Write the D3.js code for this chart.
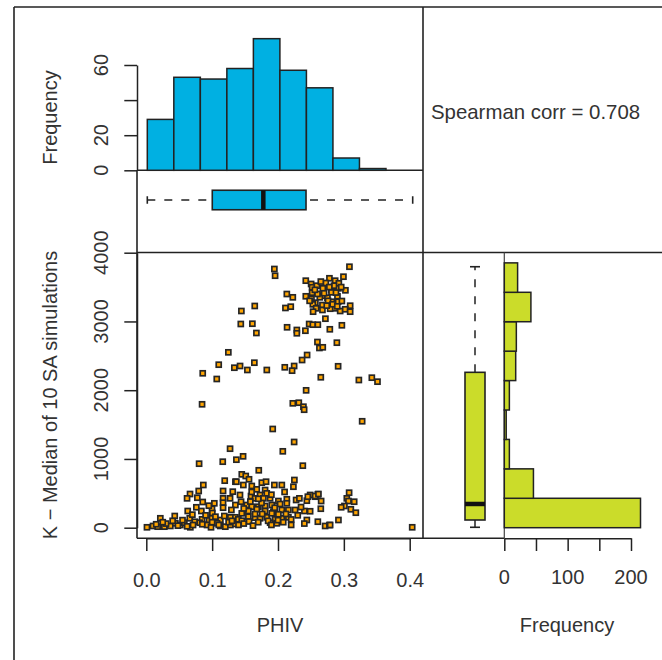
<!DOCTYPE html>
<html>
<head>
<meta charset="utf-8">
<script src="https://cdn.jsdelivr.net/npm/d3@7"></script>
<style>
  body { margin: 0; background: #fff; }
  svg text { font-family: "Liberation Sans", Arial, sans-serif; font-size: 20px; fill: #333; }
</style>
</head>
<body>
<div id="chart"></div>
<script>
// scatter points: PHIV (x) and K - median of 10 SA simulations (y)
var phiv = [
  0.1945,0.1956,0.3085,0.2994,0.2134,0.2225,0.2113,0.2194,0.1444,0.1647,0.1435,0.1611,0.1672,
  0.2138,0.2286,0.2286,0.2416,0.2473,0.2529,0.2605,0.272,0.2787,0.297,0.2599,0.2629,0.268,0.2894,
  0.2442,0.2366,0.1246,0.0857,0.107,0.11,0.1337,0.1424,0.1535,0.1641,0.183,0.2103,0.2245,0.2214,
  0.2913,0.265,0.3228,0.3425,0.3511,0.2427,0.0847,0.2225,0.2316,0.2386,0.2397,0.3278,0.192,
  0.2422,0.2503,0.2518,0.2781,0.2726,0.2868,0.2924,0.2918,0.3024,0.2681,0.2812,0.2812,0.2518,
  0.2422,0.2508,0.2681,0.2635,0.2751,0.2903,0.2818,0.2913,0.2568,0.2529,0.2675,0.3096,0.297,
  0.2579,0.2675,0.2533,0.2863,0.2944,0.302,0.3096,0.2792,
  0.259,0.27,0.285,0.276,0.26,0.288,0.296,0.265,0.274,0.283,0.248,0.256,0.29,0.278,
  0.1272,0.147,0.1368,0.1161,0.0802,0.2245,0.2073,0.2377,0.1708,0.4038,
  0.1191,0.1353,0.0866,0.0796,0.0664,0.0619,0.0775,0.0857,0.1166,0.1313,0.1166,0.1272,0.1033,
  0.1166,0.076,0.0629,0.0836,0.0998,0.1003,0.1166,0.1353,0.1292,
  0.0213,0.0432,0.066,0.0736,0.0847,0.0953,0.0998,0.1125,0.1185,0.1277,0.1353,
  0.001,0.0102,0.0173,0.0274,0.0365,0.0441,0.0517,0.0578,0.0669,0.071,0.0812,0.0922,0.0983,
  0.1074,0.1125,0.12,0.1277,0.1353,
  0.145,0.151,0.156,0.1368,0.1474,0.1602,0.1754,0.1819,0.1945,0.2058,0.2249,0.2234,0.1678,
  0.1804,0.1829,0.1727,0.159,0.1423,0.1439,0.1652,0.1778,0.188,0.2006,0.2134,0.2134,0.2275,
  0.2325,0.2438,0.2488,0.2564,0.2605,0.2655,0.265,0.2488,0.2401,0.2438,0.2605,0.2716,0.2781,
  0.1526,0.1602,0.1702,0.1804,0.1906,0.2032,0.2158,0.226,0.2058,0.193,0.1804,0.1678,0.155,
  0.145,0.1398,0.145,0.155,0.1652,0.1728,0.1829,0.1956,0.2058,0.2158,0.188,0.1982,0.1652,
  0.1906,0.2006,
  0.308,0.3045,0.3157,0.307,0.3009,0.2959,0.3106,0.3182,0.2918,0.2792,
  0.03,0.048,0.055,0.062,0.09,0.105,0.11,0.125,0.14,0.148,0.156,0.162,0.17,0.176,0.185,0.19,
  0.2,0.208,0.212,0.22,0.23,0.235,0.195,0.175,0.158,0.148,0.095,0.07,0.04,0.015,0.1,0.16,
  0.19,0.21,0.17,0.24,0.22,0.13,0.085,0.025,0.2453,0.2564,0.2614
];
var kMedian = [
  3763,3665,3796,3651,3399,3351,3196,3215,3152,3225,2963,2967,2832,
  2915,2876,2828,2865,2963,2953,2953,3040,2886,2944,2701,2614,2624,2691,
  2512,2439,2551,2246,2163,2371,2327,2352,2294,2400,2294,2333,2352,2284,
  2348,2188,2148,2182,2124,1998,1795,1809,1818,1760,1716,1548,1436,
  3593,3545,3497,3628,3559,3593,3555,3482,3453,3482,3462,3424,3418,
  3366,3331,3375,3351,3345,3366,3287,3287,3273,3249,3239,3229,3297,
  3191,3167,3142,3191,3152,3177,3142,3185,
  3520,3410,3520,3300,3400,3420,3500,3580,3230,3250,3300,3460,3220,3500,
  1149,1038,989,960,931,1247,1111,902,835,6,
  684,669,621,534,490,427,436,374,534,524,427,427,355,
  364,297,243,243,276,214,291,330,258,
  137,170,137,87,122,112,137,112,170,151,151,
  6,25,15,15,25,64,39,73,6,39,73,39,6,
  64,25,15,39,54,
  776,752,704,669,621,607,655,669,621,621,694,596,558,
  548,500,476,461,476,378,427,427,427,388,413,355,403,
  427,393,476,451,486,388,276,239,243,112,87,25,39,
  330,305,305,316,330,345,258,258,258,233,243,268,243,
  209,122,102,160,146,137,151,122,137,151,73,64,199,
  209,195,
  509,427,378,388,316,297,268,218,112,39,
  60,30,110,20,180,160,40,80,40,60,90,30,80,200,100,40,
  110,80,200,120,180,300,290,360,380,280,320,190,100,50,80,520,
  480,520,420,60,40,100,50,80,451,461,490
];

// top histogram of PHIV
var phivBreaks = [0,0.04,0.08,0.12,0.16,0.20,0.24,0.28,0.32,0.36];
var phivCounts = [29,53,52,58,75,57,47,7,1];
var phivBox = [0.0, 0.098, 0.175, 0.2394, 0.4003]; // min, q1, median, q3, max

// right histogram of K
var kBreaks = [0,428,856,1284,1712,2140,2568,2996,3424,3852];
var kCounts = [215,46,8,3,8,18,19,42,21];
var kBox = [6, 112, 345, 2260, 3796];

var xTicks = [0,0.1,0.2,0.3,0.4];
var yTicks = [0,1000,2000,3000,4000];
var topTicks = [0,20,40,60];
var topLabels = [0,20,60];
var rightTicks = [0,50,100,150,200];
var rightLabels = [0,100,200];

var corrText = "Spearman corr = 0.708";

var W = 662, H = 660, ink = "#222";

var svg = d3.select("#chart").append("svg").attr("width", W).attr("height", H);

var x = d3.scaleLinear().domain([0,0.4]).range([146.3,409.7]);
var y = d3.scaleLinear().domain([0,4000]).range([527.7,252.7]);
var xTop = d3.scaleLinear().domain([0,0.4]).range([147.3,412.5]);
var yTop = d3.scaleLinear().domain([0,60]).range([170.3,65]);
var xRight = d3.scaleLinear().domain([0,200]).range([504.3,631]);

function line(x1,y1,x2,y2,w,c) {
  svg.append("line").attr("x1",x1).attr("y1",y1).attr("x2",x2).attr("y2",y2)
    .attr("stroke", c || ink).attr("stroke-width", w || 1.6);
}

// frame and panel borders
line(14,7,662,7);
line(14,7,14,660);
line(423,7,423,538.3);
line(137,252.5,662,252.5);
line(137,170.3,423,170.3);
line(137,170.3,137,538.3);
line(137,538.3,504.3,538.3);
line(504.3,252.5,504.3,538.3,1.2,"#444");

// top histogram
svg.append("g").selectAll("rect").data(phivCounts).enter().append("rect")
  .attr("x", function(d,i){ return xTop(phivBreaks[i]); })
  .attr("width", function(d,i){ return xTop(phivBreaks[i+1]) - xTop(phivBreaks[i]); })
  .attr("y", function(d){ return yTop(d); })
  .attr("height", function(d){ return yTop(0) - yTop(d); })
  .attr("fill", "#00b0e2").attr("stroke", ink).attr("stroke-width", 1.5);

var topAx = svg.append("g").attr("transform","translate(137,0)")
  .call(d3.axisLeft(yTop).tickValues(topTicks).tickSize(12.7).tickSizeOuter(0).tickFormat(""));
styleAxis(topAx);
svg.append("g").selectAll("text").data(topLabels).enter().append("text")
  .attr("transform", function(d){ return "translate(108," + yTop(d) + ") rotate(-90)"; })
  .attr("text-anchor","middle").text(function(d){ return d; });
svg.append("text").attr("transform","translate(57,117.5) rotate(-90)")
  .attr("text-anchor","middle").text("Frequency");

// top boxplot (horizontal)
var bY = 200, bH = 19.5, cH = 7.5;
var gTb = svg.append("g");
gTb.append("line").attr("x1", xTop(phivBox[0])).attr("x2", xTop(phivBox[1])).attr("y1",bY).attr("y2",bY)
  .attr("stroke",ink).attr("stroke-width",1.5).attr("stroke-dasharray","8,9");
gTb.append("line").attr("x1", xTop(phivBox[3])).attr("x2", xTop(phivBox[4])).attr("y1",bY).attr("y2",bY)
  .attr("stroke",ink).attr("stroke-width",1.5).attr("stroke-dasharray","8,9").attr("stroke-dashoffset",-4);
[phivBox[0], phivBox[4]].forEach(function(v){
  gTb.append("line").attr("x1", xTop(v)).attr("x2", xTop(v)).attr("y1", bY-cH/2).attr("y2", bY+cH/2)
    .attr("stroke",ink).attr("stroke-width",1.6);
});
gTb.append("rect").attr("x", xTop(phivBox[1])).attr("width", xTop(phivBox[3]) - xTop(phivBox[1]))
  .attr("y", bY-bH/2).attr("height", bH).attr("fill","#00b0e2").attr("stroke",ink).attr("stroke-width",1.6);
gTb.append("line").attr("x1", xTop(phivBox[2])).attr("x2", xTop(phivBox[2])).attr("y1", bY-bH/2).attr("y2", bY+bH/2)
  .attr("stroke","#111").attr("stroke-width",4.5);

// scatter
svg.append("g").selectAll("rect").data(phiv).enter().append("rect")
  .attr("x", function(d){ return x(d) - 2.5; })
  .attr("y", function(d,i){ return y(kMedian[i]) - 2.5; })
  .attr("width", 5).attr("height", 5)
  .attr("fill", "#ffa500").attr("stroke", "#262626").attr("stroke-width", 1.7);

var xAx = svg.append("g").attr("transform","translate(0,538.3)")
  .call(d3.axisBottom(x).tickValues(xTicks).tickSize(12.7).tickSizeOuter(0).tickFormat(d3.format(".1f")).tickPadding(22));
styleAxis(xAx);
var yAx = svg.append("g").attr("transform","translate(137,0)")
  .call(d3.axisLeft(y).tickValues(yTicks).tickSize(12.7).tickSizeOuter(0).tickFormat(""));
styleAxis(yAx);
svg.append("g").selectAll("text").data(yTicks).enter().append("text")
  .attr("transform", function(d){ return "translate(108," + y(d) + ") rotate(-90)"; })
  .attr("text-anchor","middle").text(function(d){ return d; });
svg.append("text").attr("x",280).attr("y",631.5).attr("text-anchor","middle").text("PHIV");
svg.append("text").attr("transform","translate(57,395) rotate(-90)")
  .attr("text-anchor","middle").text("K \u2212 Median of 10 SA simulations");

// right boxplot (vertical)
var bX = 475, bW = 20, cW = 10;
var gRb = svg.append("g");
gRb.append("line").attr("x1",bX).attr("x2",bX).attr("y1", y(kBox[3])).attr("y2", y(kBox[4]))
  .attr("stroke",ink).attr("stroke-width",1.5).attr("stroke-dasharray","8,9");
gRb.append("line").attr("x1",bX).attr("x2",bX).attr("y1", y(kBox[0])).attr("y2", y(kBox[1]))
  .attr("stroke",ink).attr("stroke-width",1.5);
[kBox[0], kBox[4]].forEach(function(v){
  gRb.append("line").attr("x1", bX-cW/2).attr("x2", bX+cW/2).attr("y1", y(v)).attr("y2", y(v))
    .attr("stroke",ink).attr("stroke-width",1.6);
});
gRb.append("rect").attr("x", bX-bW/2).attr("width", bW)
  .attr("y", y(kBox[3])).attr("height", y(kBox[1]) - y(kBox[3]))
  .attr("fill","#cbdc2a").attr("stroke",ink).attr("stroke-width",1.6);
gRb.append("line").attr("x1", bX-bW/2).attr("x2", bX+bW/2).attr("y1", y(kBox[2])).attr("y2", y(kBox[2]))
  .attr("stroke","#111").attr("stroke-width",4.5);

// right histogram (horizontal bars)
svg.append("g").selectAll("rect").data(kCounts).enter().append("rect")
  .attr("x", xRight(0))
  .attr("width", function(d){ return xRight(d) - xRight(0); })
  .attr("y", function(d,i){ return y(kBreaks[i+1]); })
  .attr("height", function(d,i){ return y(kBreaks[i]) - y(kBreaks[i+1]); })
  .attr("fill", "#cbdc2a").attr("stroke", ink).attr("stroke-width", 1.5);

var rAx = svg.append("g").attr("transform","translate(0,538.3)")
  .call(d3.axisBottom(xRight).tickValues(rightTicks).tickSize(12.7).tickSizeOuter(0).tickFormat(""));
styleAxis(rAx);
svg.append("g").selectAll("text").data(rightLabels).enter().append("text")
  .attr("x", function(d){ return xRight(d); }).attr("y", 583.5)
  .attr("text-anchor","middle").text(function(d){ return d; });
svg.append("text").attr("x",567).attr("y",631.5).attr("text-anchor","middle").text("Frequency");

// correlation note
svg.append("text").attr("x",431).attr("y",118.5).style("font-size","20.4px").text(corrText);

function styleAxis(g) {
  g.selectAll("path, line").attr("stroke", ink).attr("stroke-width", 1.5);
  g.selectAll("text").attr("fill", "#333").style("font-size","20px")
    .style("font-family", "'Liberation Sans', Arial, sans-serif");
}
</script>
</body>
</html>
